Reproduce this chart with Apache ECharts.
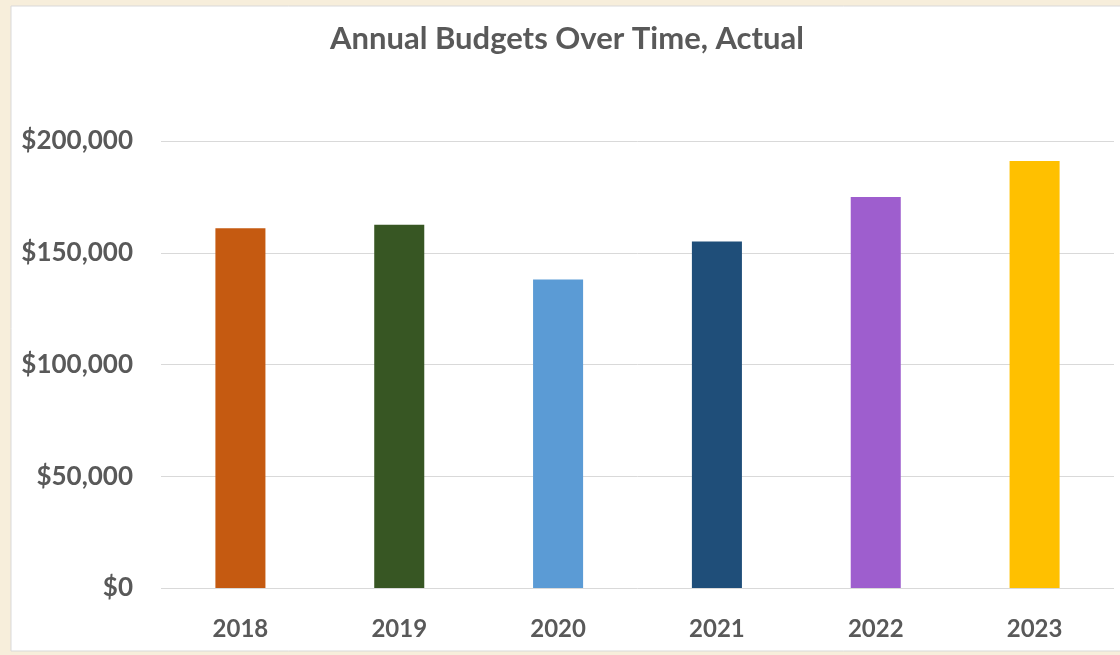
<!DOCTYPE html>
<html>
<head>
<meta charset="utf-8">
<script src="https://cdn.jsdelivr.net/npm/echarts@6/dist/echarts.min.js"></script>
<style>
html,body{margin:0;padding:0;background:#f7eedb;}
#chart{width:1120px;height:655px;}
</style>
</head>
<body>
<div id="chart"></div>
<script>
const titleText = 'Annual Budgets Over Time, Actual';
const years = ['2018', '2019', '2020', '2021', '2022', '2023'];
const budgets = [161000, 162500, 138000, 155000, 175000, 191000];
const barColors = ['#C55A11', '#375623', '#5B9BD5', '#1F4E79', '#9E5ECE', '#FFC000'];
const yTicks = [0, 50000, 100000, 150000, 200000];

const chart = echarts.init(document.getElementById('chart'));
const fontFamily = 'Lato, "Open Sans", sans-serif';
chart.setOption({
  backgroundColor: '#f7eedb',
  graphic: [
    {type: 'rect', z: -10, shape: {x: 11, y: 6, width: 1120, height: 645},
     style: {fill: '#ffffff', stroke: '#d9d9d9', lineWidth: 1}}
  ],
  title: {
    text: titleText, left: 330, top: 23, padding: 0,
    textStyle: {fontFamily, fontSize: 31, fontWeight: 'bold', color: '#595959'}
  },
  grid: {left: 161, right: 6, top: 141, bottom: 67},
  xAxis: {
    type: 'category', data: years,
    axisLine: {show: false}, axisTick: {show: false},
    axisLabel: {fontFamily, fontSize: 24, fontWeight: 'bold', color: '#595959', margin: 29}
  },
  yAxis: {
    type: 'value', min: yTicks[0], max: yTicks[yTicks.length - 1], interval: 50000,
    axisLine: {show: false}, axisTick: {show: false},
    splitLine: {lineStyle: {color: '#d9d9d9', width: 1}},
    axisLabel: {
      fontFamily, fontSize: 26, fontWeight: 'bold', color: '#595959', margin: 28,
      formatter: v => '$' + v.toLocaleString('en-US')
    }
  },
  series: [{
    type: 'bar', data: budgets.map((v, i) => ({value: v, itemStyle: {color: barColors[i]}})),
    barWidth: '31.5%'
  }]
});
</script>
</body>
</html>
